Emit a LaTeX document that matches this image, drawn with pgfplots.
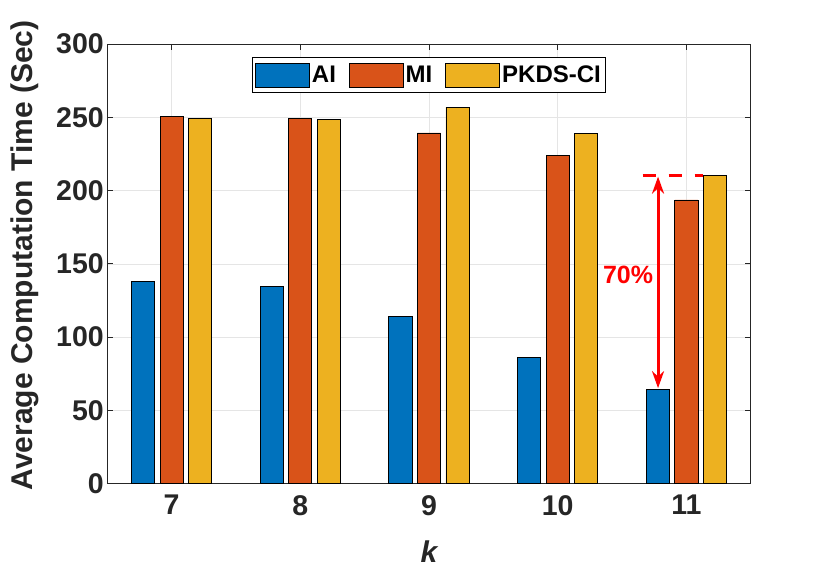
\documentclass[border=0pt]{standalone}
\usepackage{fontspec}
\setmainfont{Liberation Sans}
\usepackage{pgfplots}
\pgfplotsset{compat=1.18}
\usetikzlibrary{arrows.meta}
\definecolor{cAI}{RGB}{0,114,189}
\definecolor{cMI}{RGB}{217,83,25}
\definecolor{cPK}{RGB}{237,177,32}
\definecolor{gridgray}{RGB}{229,229,229}
\definecolor{axisgray}{RGB}{38,38,38}
\pgfplotsset{
  mybar/.style={ybar, bar width=0.18, draw=black, line width=0.8bp,
    legend image code/.code={\draw[##1,draw=black,line width=0.8bp] (0bp,-12bp) rectangle (54bp,12bp);}},
}
\begin{document}
\begin{tikzpicture}
\begin{axis}[name=ax,
  scale only axis, width=643.4bp, height=439.7bp,
  xmin=6.5, xmax=11.5, ymin=0, ymax=300,
  xtick={7,8,9,10,11}, ytick={0,50,...,300},
  grid=major, major grid style={draw=gridgray, line width=0.6bp},
  axis line style={draw=axisgray, line width=0.9bp},
  tick style={draw=axisgray, line width=0.9bp},
  major tick length=6bp, tick align=inside,
  ticklabel style={font=\bfseries\fontsize{28.5bp}{31bp}\selectfont, text=axisgray},
  xticklabel style={yshift=-8bp},
  /pgf/number format/assume math mode=true,
  scaled ticks=false,
  ylabel={Average Computation Time (Sec)},
  xlabel={\itshape k},
  label style={font=\bfseries\fontsize{30bp}{32bp}\selectfont, text=axisgray},
  ylabel style={at={(axis description cs:-0.128,0.519)}, anchor=center, rotate=0},
  xlabel style={at={(axis description cs:0.5,-0.1546)}, anchor=center},
  legend columns=3,
  legend style={at={(0.5,0.9697)}, anchor=north, draw=black, line width=0.8bp,
    font=\bfseries\fontsize{24bp}{26bp}\selectfont,
    inner xsep=3bp, inner ysep=5bp,
    nodes={inner sep=2bp},
    /tikz/every even column/.append style={column sep=11bp}},
]
\addplot[mybar, fill=cAI, bar shift=-0.222] coordinates {(7,137.8) (8,134.4) (9,114.4) (10,86.0) (11,64.1)};
\addplot[mybar, fill=cMI, bar shift=0] coordinates {(7,250.7) (8,249.3) (9,239.3) (10,223.8) (11,193.6)};
\addplot[mybar, fill=cPK, bar shift=0.222] coordinates {(7,249.5) (8,248.8) (9,257.0) (10,239.0) (11,210.4)};
\legend{AI, MI, PKDS-CI}
\addplot[red, line width=3bp, dash pattern=on 13bp off 13bp, forget plot] coordinates {(10.66,210) (11.126,210)};
\addplot[red, line width=3bp, {Stealth[length=17bp,width=12bp]}-{Stealth[length=17bp,width=12bp]}, forget plot] coordinates {(10.78,209.5) (10.78,65.2)};
\node[text=red, font=\bfseries\fontsize{25bp}{27bp}\selectfont] at (axis cs:10.547,142.4) {70\%};
\end{axis}
\path (ax.south west) ++(-107.3bp,-85.3bp) rectangle ++(830bp,569bp);
\end{tikzpicture}
\end{document}
